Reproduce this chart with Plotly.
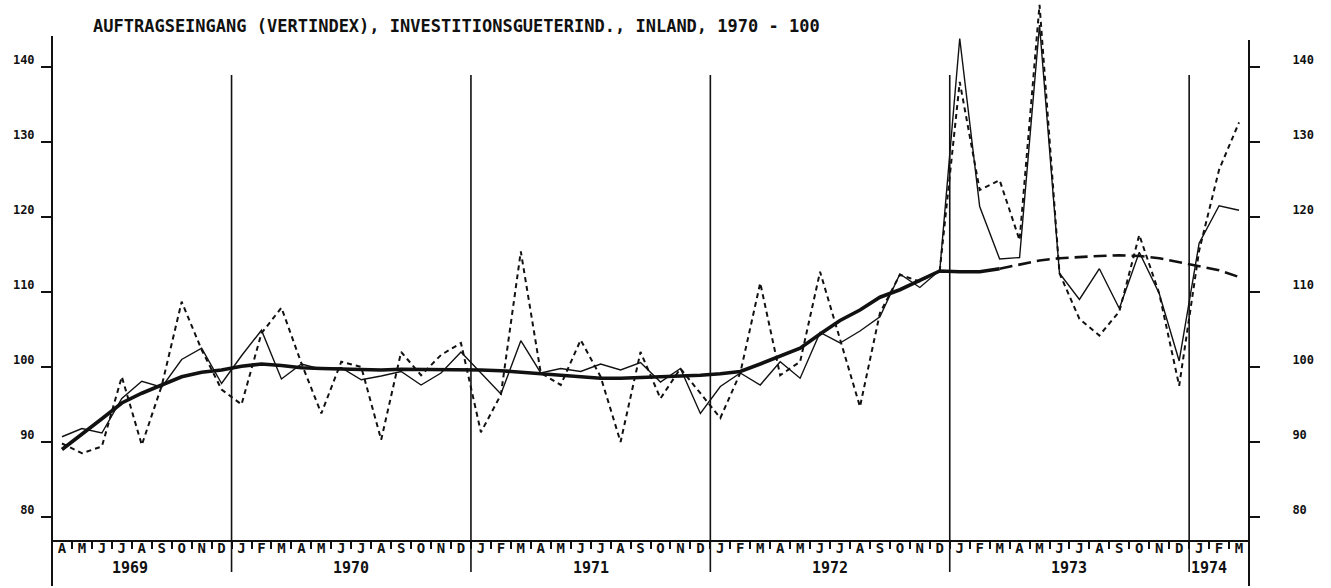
import plotly.graph_objects as go

# ---------------- data ----------------
month_letters = list("JFMAMJJASOND")
start_year, start_month = 1969, 4   # April 1969
n_months = 60                       # Apr 1969 .. Mar 1974

years = [1969, 1970, 1971, 1972, 1973, 1974]

# seasonally adjusted (thin solid)
adjusted = [
    90.7, 91.8, 91.2, 95.8, 98.1, 97.3, 101.0, 102.5, 97.8,
    101.5, 104.9, 98.4, 100.4, 99.7, 99.9, 98.3, 98.8, 99.4, 97.6, 99.2, 102.0,
    99.2, 96.4, 103.5, 99.2, 99.8, 99.4, 100.4, 99.6, 100.6, 98.0, 99.8, 93.8,
    97.4, 99.2, 97.6, 100.7, 98.5, 104.6, 103.2, 104.8, 106.7, 112.4, 110.6, 112.9,
    143.8, 121.4, 114.4, 114.6, 145.6, 112.5, 109.0, 113.1, 107.8, 115.3, 109.8, 100.8,
    116.5, 121.5, 120.9,
]

# original values (short dashes)
original = [
    89.8, 88.5, 89.4, 98.7, 89.6, 97.5, 108.7, 102.3, 97.0,
    95.0, 104.5, 107.9, 100.5, 93.8, 100.7, 100.0, 90.3, 102.0, 98.9, 101.6, 103.2,
    91.3, 96.3, 115.4, 99.2, 97.6, 103.6, 98.7, 90.0, 102.0, 95.8, 99.8, 96.5,
    93.2, 99.2, 111.2, 98.9, 100.7, 112.7, 103.6, 94.7, 107.2, 112.3, 111.4, 112.9,
    138.0, 123.6, 124.9, 116.9, 148.3, 112.5, 106.4, 104.2, 107.4, 117.6, 109.8, 97.5,
    115.5, 126.3, 132.6,
]

# trend (thick), solid up to Mar 1973, projected (long dashes) afterwards
trend = [
    89.0, 91.0, 93.1, 95.2, 96.5, 97.6, 98.7, 99.3, 99.6,
    100.1, 100.4, 100.2, 99.9, 99.8, 99.7, 99.6, 99.6, 99.7, 99.7, 99.7, 99.7,
    99.6, 99.5, 99.3, 99.1, 98.8, 98.6, 98.5, 98.5, 98.6, 98.6, 98.7, 98.9,
    99.1, 99.4, 100.4, 101.4, 102.5, 104.4, 106.2, 107.6, 109.3, 110.3, 111.5, 112.8,
    112.7, 112.7, 113.1, 113.7, 114.2, 114.5, 114.7, 114.8, 114.9, 114.8, 114.5, 114.0,
    113.5, 112.9, 112.0,
]
trend_solid_end = 47   # index of Mar 1973

y_ticks = [80, 90, 100, 110, 120, 130, 140]
title_text = "AUFTRAGSEINGANG (VERTINDEX), INVESTITIONSGUETERIND., INLAND, 1970 - 100"

# ---------------- derived ----------------
idx = list(range(n_months))
labels = [month_letters[(start_month - 1 + i) % 12] for i in idx]
month_of = [(start_month - 1 + i) % 12 for i in idx]
year_bounds = [i for i in idx if month_of[i] == 0]          # January indices
FONT = "DejaVu Sans Mono"
INK = "#111111"

fig = go.Figure()
fig.add_trace(go.Scatter(x=idx, y=original, mode="lines",
                         line=dict(color=INK, width=2, dash="5px,4px"),
                         hoverinfo="skip", showlegend=False))
fig.add_trace(go.Scatter(x=idx, y=adjusted, mode="lines",
                         line=dict(color=INK, width=1.4),
                         hoverinfo="skip", showlegend=False))
fig.add_trace(go.Scatter(x=idx[:trend_solid_end + 1], y=trend[:trend_solid_end + 1],
                         mode="lines", line=dict(color=INK, width=3.6),
                         hoverinfo="skip", showlegend=False))
fig.add_trace(go.Scatter(x=idx[trend_solid_end:], y=trend[trend_solid_end:],
                         mode="lines", line=dict(color=INK, width=2.6, dash="13px,6px"),
                         yaxis="y2", hoverinfo="skip", showlegend=False))

W, H = 1331, 588
ML, MR, MT, MB = 52, 82, 0, 48
plot_h = H - MT - MB

def py(p):  # pixel y (from top) -> paper y
    return 1 - (p - MT) / plot_h

shapes = []
# left / right axis lines extending beyond the plot area
shapes.append(dict(type="line", xref="paper", yref="paper", x0=0, x1=0,
                   y0=py(36), y1=py(586), line=dict(color=INK, width=2)))
shapes.append(dict(type="line", xref="paper", yref="paper", x0=1, x1=1,
                   y0=py(40), y1=py(586), line=dict(color=INK, width=2)))
for b in year_bounds:
    xp = b / n_months
    shapes.append(dict(type="line", xref="paper", yref="paper", x0=xp, x1=xp,
                       y0=py(75), y1=py(572), line=dict(color=INK, width=1.6)))

annotations = [dict(text="<b>" + title_text + "</b>", xref="paper", yref="paper",
                    x=(91 - ML) / (W - ML - MR), y=py(26), xanchor="left", yanchor="middle",
                    showarrow=False, font=dict(family=FONT, size=17, color=INK))]
for y in years:
    ids = [i for i in idx if (start_month - 1 + i) // 12 + start_year == y]
    centre = (ids[0] + ids[-1]) / 2
    xanchor = "center"
    if y == years[0]:
        centre = ids[0] + 3.4
    if y == years[-1]:
        centre = ids[0] - 0.5
        xanchor = "left"
    annotations.append(dict(text="<b>%d</b>" % y, xref="x", yref="paper",
                            x=centre, y=py(568), xanchor=xanchor, yanchor="middle",
                            showarrow=False, font=dict(family=FONT, size=15, color=INK)))

yaxis_common = dict(range=[76.93, 148.93], tickvals=y_ticks, ticks="outside", ticklen=10,
                    tickwidth=2, tickcolor=INK, showgrid=False, zeroline=False,
                    showline=False, ticklabelshift=-7,
                    ticktext=["<b>%d</b>" % v for v in y_ticks],
                    tickfont=dict(family=FONT, size=12, color=INK))

fig.update_layout(
    width=W, height=H, margin=dict(l=ML, r=MR, t=MT, b=MB),
    paper_bgcolor="white", plot_bgcolor="white",
    xaxis=dict(range=[-0.5, n_months - 0.5], tickmode="array", tickvals=idx,
               ticktext=["<b>%s</b>" % s for s in labels], ticks="",
               showgrid=False, zeroline=False, showline=True, linewidth=2, linecolor=INK,
               tickfont=dict(family=FONT, size=14, color=INK), ticklabelstandoff=-6,
               minor=dict(tickmode="array", tickvals=[i - 0.5 for i in idx[1:]],
                          ticks="outside", ticklen=7, tickwidth=1.5, tickcolor=INK,
                          showgrid=False)),
    yaxis=dict(**yaxis_common, ticklabelstandoff=4),
    yaxis2=dict(**yaxis_common, overlaying="y", side="right", matches="y",
                ticklabelstandoff=30),
    shapes=shapes, annotations=annotations,
)

fig.write_html("out.html", config={"displayModeBar": False},
               post_script="document.body.style.margin='0';")
